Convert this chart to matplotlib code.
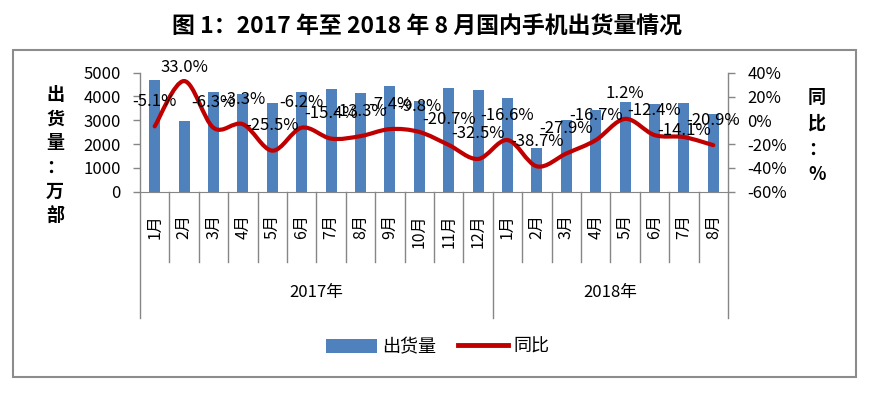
import matplotlib
matplotlib.use('Agg')
import matplotlib.pyplot as plt
from matplotlib.path import Path
from matplotlib.patches import PathPatch, Rectangle, Patch
from matplotlib.lines import Line2D

plt.rcParams['font.family'] = ['Noto Sans CJK SC', 'DejaVu Sans']

# 数据
months = ['1月', '2月', '3月', '4月', '5月', '6月', '7月', '8月', '9月', '10月', '11月', '12月',
          '1月', '2月', '3月', '4月', '5月', '6月', '7月', '8月']
years = ['2017年', '2018年']
year_counts = [12, 8]
shipments = [4690, 2970, 4200, 4120, 3740, 4190, 4310, 4130, 4440, 3800, 4340, 4260,
             3920, 1820, 3010, 3430, 3780, 3670, 3710, 3270]
yoy = [-5.1, 33.0, -6.3, -3.3, -25.5, -6.2, -15.4, -13.3, -7.4, -9.8, -20.7, -32.5,
       -16.6, -38.7, -27.9, -16.7, 1.2, -12.4, -14.1, -20.9]

BLUE = '#4F81BD'
RED = '#C00000'
GRAY = '#868686'

fig = plt.figure(figsize=(8.74, 3.97), dpi=100)
W, H = 874, 397
ax = fig.add_axes([140 / W, 1 - 191.7 / H, 588 / W, 119 / H])
ax2 = ax.twinx()

n = len(months)
x = list(range(n))
ax.bar(x, shipments, width=0.38, color=BLUE, zorder=2)
ax.set_xlim(-0.5, n - 0.5)
ax.set_ylim(0, 5000)
ax.set_yticks([0, 1000, 2000, 3000, 4000, 5000])
ax.set_xticks([])
ax2.set_ylim(-60, 40)
ax2.set_yticks([-60, -40, -20, 0, 20, 40])
ax2.set_yticklabels([f'{v}%' for v in [-60, -40, -20, 0, 20, 40]])

for a in (ax, ax2):
    for s in ('top', 'left', 'right'):
        a.spines[s].set_visible(False)
    a.spines['bottom'].set_color(GRAY)
    a.tick_params(axis='y', direction='out', length=5, width=1, color=GRAY,
                  labelsize=12, pad=9)
ax2.spines['bottom'].set_visible(False)

# 平滑曲线 (贝塞尔)
verts = [(x[0], yoy[0])]
codes = [Path.MOVETO]
for i in range(n - 1):
    p0 = (x[max(i - 1, 0)], yoy[max(i - 1, 0)])
    p1 = (x[i], yoy[i])
    p2 = (x[i + 1], yoy[i + 1])
    p3 = (x[min(i + 2, n - 1)], yoy[min(i + 2, n - 1)])
    c1 = (p1[0] + (p2[0] - p0[0]) / 6, p1[1] + (p2[1] - p0[1]) / 6)
    c2 = (p2[0] - (p3[0] - p1[0]) / 6, p2[1] - (p3[1] - p1[1]) / 6)
    verts += [c1, c2, p2]
    codes += [Path.CURVE4] * 3
ax2.add_patch(PathPatch(Path(verts, codes), fill=False, edgecolor=RED, lw=3,
                        capstyle='round', joinstyle='round', zorder=3))

# 数据标签
offsets = {1: 10, 18: 5}
for i, v in enumerate(yoy):
    ax2.annotate(f'{v:.1f}%', (x[i], v), xytext=(0, offsets.get(i, 18)),
                 textcoords='offset points', ha='center', va='center',
                 fontsize=12, zorder=4)

# 分类轴
tr = ax.get_xaxis_transform()
month_bottom = -(262 - 191.7) / 119
year_bottom = -(318 - 191.7) / 119
bounds = [0]
for c in year_counts:
    bounds.append(bounds[-1] + c)
for i in range(n + 1):
    yb = year_bottom if i in bounds else month_bottom
    top = 1 if i in (0, n) else 0
    ax.plot([i - 0.5, i - 0.5], [top, yb], transform=tr, color=GRAY, lw=1,
            clip_on=False)
for i, m in enumerate(months):
    ax.text(i, -(214 - 191.7) / 119, m, transform=tr, rotation=90, ha='center',
            va='top', fontsize=11.5)
for k, yr in enumerate(years):
    cx = (bounds[k] + bounds[k + 1]) / 2 - 0.5
    ax.text(cx, -(293 - 191.7) / 119, yr, transform=tr, ha='center', va='center',
            fontsize=12)

# 轴标题
for j, ch in enumerate('出货量：万部'):
    fig.text(55 / W, 1 - (95 + 24 * j) / H, ch, ha='center', va='center',
             fontsize=13, fontweight='bold')
for j, ch in enumerate('同比：%'):
    fig.text(817 / W, 1 - (97 + 26 * j) / H, ch, ha='center', va='center',
             fontsize=13, fontweight='bold')

fig.text(0.488, 1 - 27 / H, '图 1：2017 年至 2018 年 8 月国内手机出货量情况',
         ha='center', va='center', fontsize=16.5, fontweight='bold')

handles = [Patch(facecolor=BLUE, label='出货量'),
           Line2D([0], [0], color=RED, lw=3.5, label='同比')]
fig.legend(handles=handles, loc='center', bbox_to_anchor=(0.501, 1 - 347 / H),
           ncol=2, frameon=False, fontsize=13, handlelength=2.8, handleheight=0.8,
           columnspacing=1.2, handletextpad=0.3)

fig.patches.append(Rectangle((13 / W, 1 - 377 / H), (856 - 13) / W, (377 - 50) / H,
                             transform=fig.transFigure, fill=False, ec='#8c8c8c',
                             lw=1.5))

fig.savefig('out.png', dpi=100)
